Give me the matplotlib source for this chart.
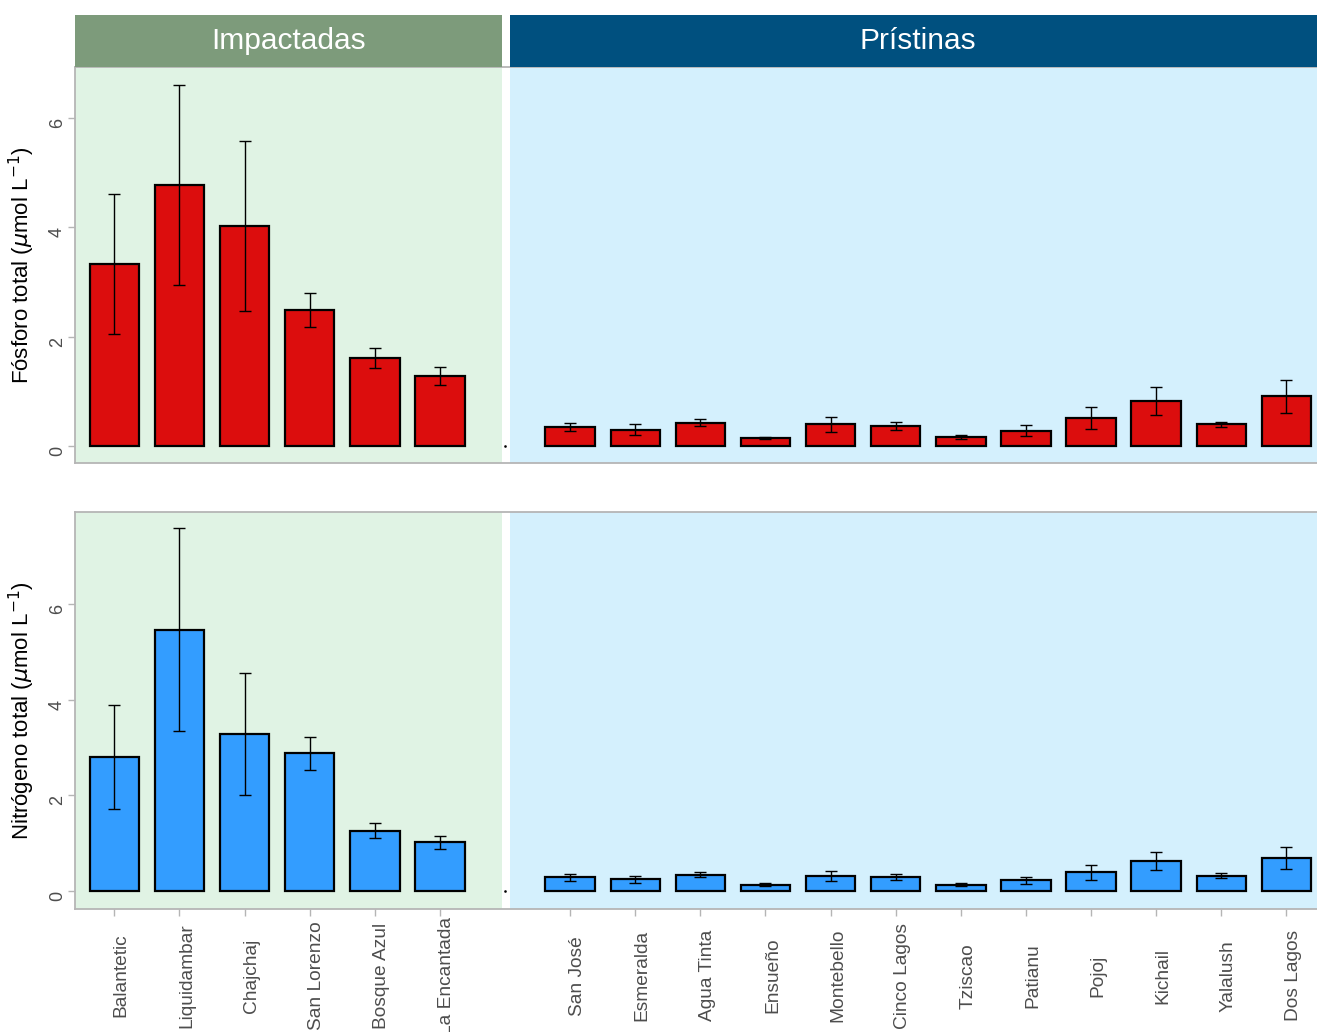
import numpy as np
import matplotlib
matplotlib.use("Agg")
import matplotlib.pyplot as plt
from matplotlib.transforms import ScaledTranslation

# ---- data ----
sites_imp = ["Balantetic", "Liquidambar", "Chajchaj", "San Lorenzo", "Bosque Azul", "La Encantada"]
sites_pri = ["San José", "Esmeralda", "Agua Tinta", "Ensueño", "Montebello", "Cinco Lagos",
             "Tziscao", "Patianu", "Pojoj", "Kichail", "Yalalush", "Dos Lagos"]

# total phosphorus (mean, standard error)
p_imp = [3.33, 4.77, 4.02, 2.49, 1.61, 1.28]
p_imp_se = [1.28, 1.83, 1.55, 0.31, 0.19, 0.16]
p_pri = [0.35, 0.30, 0.43, 0.15, 0.40, 0.37, 0.17, 0.28, 0.51, 0.83, 0.40, 0.91]
p_pri_se = [0.08, 0.105, 0.065, 0.02, 0.135, 0.075, 0.04, 0.105, 0.195, 0.255, 0.045, 0.30]

# total nitrogen (mean, standard error)
n_imp = [2.80, 5.47, 3.29, 2.88, 1.26, 1.02]
n_imp_se = [1.085, 2.12, 1.275, 0.34, 0.16, 0.135]
n_pri = [0.28, 0.24, 0.34, 0.13, 0.31, 0.29, 0.13, 0.22, 0.39, 0.63, 0.32, 0.69]
n_pri_se = [0.07, 0.08, 0.055, 0.025, 0.10, 0.06, 0.03, 0.08, 0.155, 0.185, 0.045, 0.23]

groups = ["Impactadas", "Prístinas"]

# ---- style ----
plt.rcParams.update({
    "font.family": ["Liberation Sans", "DejaVu Sans"],
    "mathtext.fontset": "dejavusans",
})

GRAY_TXT = "#4D4D4D"
GRAY_AX = "#B5B5B5"
BG_IMP, BG_PRI = "#E0F3E4", "#D4F0FD"
STRIP_IMP, STRIP_PRI = "#7D9B7B", "#00507F"
RED, BLUE = "#DC0D0D", "#339DFF"

x_imp = np.arange(len(sites_imp))
x_pri = np.arange(len(sites_pri)) + len(sites_imp) + 1
gap_x = len(sites_imp)

XLIM = (-0.604, 18.47)
imp_span = (-0.604, 5.955)
pri_span = (6.078, 18.6)

fig = plt.figure(figsize=(13.17, 10.32), dpi=100)
W, H = 1317, 1032


def px_axes(x0, y0, x1, y1):
    return fig.add_axes([x0 / W, 1 - y1 / H, (x1 - x0) / W, (y1 - y0) / H])


ax_p = px_axes(75, 67, 1317, 463)
ax_n = px_axes(75, 511.7, 1317, 909)
ax_s = px_axes(75, 15, 1317, 67)


def panel(ax, v_imp, e_imp, v_pri, e_pri, color, ylim, ylabel):
    ax.set_facecolor("white")
    ax.axvspan(*imp_span, color=BG_IMP, zorder=0, lw=0)
    ax.axvspan(*pri_span, color=BG_PRI, zorder=0, lw=0)
    for xs, v, e in [(x_imp, v_imp, e_imp), (x_pri, v_pri, e_pri)]:
        ax.bar(xs, v, width=0.76, color=color, edgecolor="black", linewidth=1.6, zorder=2)
        ax.errorbar(xs, v, yerr=e, fmt="none", ecolor="black", elinewidth=1.0,
                    capsize=4.2, capthick=1.0, zorder=3)
    ax.plot([gap_x], [0], marker="s", ms=0.8, color="black", lw=0, zorder=3)
    ax.set_xlim(*XLIM)
    ax.set_ylim(*ylim)
    ax.set_yticks([0, 2, 4, 6])
    ax.tick_params(axis="y", labelrotation=90, colors=GRAY_AX, labelcolor=GRAY_TXT,
                   labelsize=13, length=5, width=1.0, pad=1.5)
    for lab in ax.get_yticklabels():
        lab.set_va("top")
        lab.set_ha("right")
    for s in ["left", "bottom", "top"]:
        ax.spines[s].set_color(GRAY_AX)
        ax.spines[s].set_linewidth(1.3)
    ax.spines["right"].set_visible(False)
    ax.set_ylabel(ylabel, fontsize=16, va="center")
    ax.yaxis.set_label_coords(-0.0427, 0.5)


panel(ax_p, p_imp, p_imp_se, p_pri, p_pri_se, RED, (-0.31, 6.93),
      r"Fósforo total ($\mu$mol L$^{-1}$)")
panel(ax_n, n_imp, n_imp_se, n_pri, n_pri_se, BLUE, (-0.38, 7.94),
      r"Nitrógeno total ($\mu$mol L$^{-1}$)")

ax_p.set_xticks([])
ax_n.set_xticks(np.concatenate([x_imp, x_pri]))
ax_n.set_xticklabels(sites_imp + sites_pri, rotation=90, va="center", ha="center")
ax_n.tick_params(axis="x", colors=GRAY_AX, labelcolor=GRAY_TXT, labelsize=13.8,
                 length=5, width=1.0, pad=43)
shift = ScaledTranslation(0.07, 0, fig.dpi_scale_trans)
for lab in ax_n.get_xticklabels():
    lab.set_transform(lab.get_transform() + shift)

# facet strips
ax_s.set_xlim(*XLIM)
ax_s.set_ylim(0, 1)
ax_s.axvspan(*imp_span, color=STRIP_IMP, lw=0)
ax_s.axvspan(*pri_span, color=STRIP_PRI, lw=0)
ax_s.text(np.mean(imp_span), 0.5, groups[0], color="white", fontsize=21.5,
          ha="center", va="center")
ax_s.text(np.mean(pri_span), 0.5, groups[1], color="white", fontsize=21.5,
          ha="center", va="center")
ax_s.axis("off")

fig.savefig("out.png", dpi=100)
